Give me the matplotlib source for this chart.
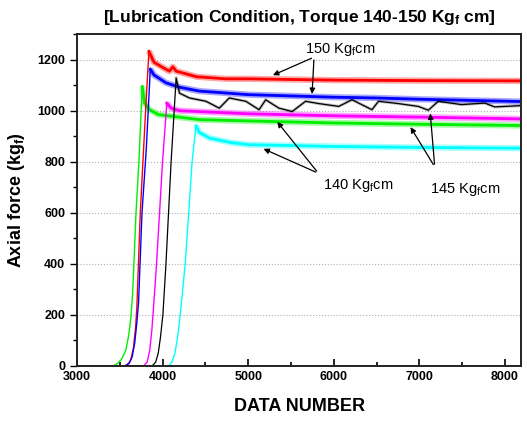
import numpy as np
import matplotlib.pyplot as plt
from matplotlib.ticker import MultipleLocator

plt.rcParams['font.family'] = ['Liberation Sans', 'DejaVu Sans']
plt.rcParams['mathtext.default'] = 'regular'

# curves: (data number, axial force kgf), pk index = start of noisy plateau
red_x = [3000, 3560, 3600, 3630, 3660, 3685, 3700, 3740, 3771, 3810, 3841, 3900, 4000, 4080, 4120, 4160, 4236, 4400, 4740, 5000, 6000, 7000, 8190]
red_y = [0, 0, 8, 25, 70, 150, 230, 600, 800, 1050, 1233, 1190, 1170, 1155, 1172, 1155, 1148, 1133, 1125, 1125, 1120, 1118, 1117]
red_pk = 10

blue_x = [3000, 3560, 3610, 3645, 3675, 3700, 3720, 3760, 3810, 3857, 3900, 4042, 4200, 4430, 5000, 6000, 6500, 7000, 8190]
blue_y = [0, 0, 10, 35, 90, 170, 250, 600, 850, 1163, 1140, 1109, 1092, 1077, 1063, 1053, 1050, 1045, 1036]
blue_pk = 9

green_x = [3000, 3420, 3470, 3520, 3570, 3605, 3630, 3650, 3668, 3690, 3724, 3763, 3790, 3849, 3950, 4430, 5000, 6000, 7000, 8190]
green_y = [0, 0, 8, 25, 60, 120, 190, 280, 420, 600, 800, 1095, 1030, 1004, 985, 965, 960, 952, 947, 942]
green_pk = 11

mag_x = [3000, 3780, 3820, 3850, 3875, 3895, 3930, 3965, 4000, 4050, 4100, 4200, 5000, 6000, 7000, 8190]
mag_y = [0, 0, 15, 60, 140, 230, 400, 600, 800, 1030, 1010, 1000, 988, 980, 975, 968]
mag_pk = 9

blk_x = [3000, 3880, 3920, 3950, 3975, 4004, 4040, 4070, 4100, 4159, 4198, 4314, 4508, 4663, 4779, 4973, 5128, 5205,
         5360, 5515, 5671, 5826, 6058, 6213, 6446, 6523, 6756, 6988, 7105, 7221, 7492, 7764, 7880, 8190]
blk_y = [0, 0, 15, 50, 110, 200, 400, 600, 800, 1128, 1069, 1050, 1037, 1010, 1050, 1037, 1004, 1043,
         1010, 997, 1037, 1028, 1017, 1043, 1004, 1037, 1028, 1017, 1002, 1037, 1024, 1030, 1015, 1020]
blk_pk = 9

cyan_x = [3000, 4070, 4110, 4145, 4175, 4200, 4230, 4265, 4306, 4345, 4391, 4430, 4547, 4800, 5000, 6000, 7000, 8190]
cyan_y = [0, 0, 15, 50, 110, 180, 280, 400, 600, 800, 941, 915, 893, 875, 867, 860, 856, 853]
cyan_pk = 10

series = [(green_x, green_y, green_pk, '#00ee00'),
          (cyan_x, cyan_y, cyan_pk, '#00ffff'),
          (mag_x, mag_y, mag_pk, '#ff00ff'),
          (red_x, red_y, red_pk, '#ff0000'),
          (blue_x, blue_y, blue_pk, '#0000ff')]

fig = plt.figure(figsize=(5.27, 4.22), dpi=100)
ax = fig.add_axes([0.146, 0.133, 0.843, 0.786])

for xs, ys, pk, col in series:
    ax.plot(xs, ys, color=col, lw=1.0)
    ax.plot(xs[pk:], ys[pk:], color=col, lw=4.5, alpha=0.35, solid_capstyle='butt')
    ax.plot(xs[pk:], ys[pk:], color=col, lw=2.0)
ax.plot(blk_x, blk_y, color='black', lw=0.9)
ax.plot(blk_x[blk_pk:], blk_y[blk_pk:], color='black', lw=2.2, alpha=0.25)

ax.set_xlim(3000, 8190)
ax.set_ylim(0, 1300)
ax.xaxis.set_major_locator(MultipleLocator(1000))
ax.xaxis.set_minor_locator(MultipleLocator(500))
ax.yaxis.set_major_locator(MultipleLocator(200))
ax.yaxis.set_minor_locator(MultipleLocator(100))
ax.tick_params(axis='x', which='both', direction='in', length=5, width=1.2)
ax.tick_params(axis='y', which='both', direction='out', length=5, width=1.0)
ax.tick_params(which='minor', length=3)
for lab in ax.get_xticklabels() + ax.get_yticklabels():
    lab.set_fontweight('bold')
    lab.set_fontsize(9)
ax.grid(axis='y', which='major', color='#b0b0b0', ls=':', lw=0.8)
for sp in ax.spines.values():
    sp.set_linewidth(1.4)
    sp.set_color('#222222')

ax.set_xlabel('DATA NUMBER', fontsize=13, fontweight='bold', labelpad=11)
ax.set_ylabel('Axial force (kg$_f$)', fontsize=13, fontweight='bold', labelpad=7)
ax.set_title('[Lubrication Condition, Torque 140-150 Kg$_f$ cm]', fontsize=12.5, fontweight='bold', pad=9)

arr = dict(arrowstyle='-|>', color='black', lw=0.9, mutation_scale=8)
ax.text(5660, 1240, '150 Kg$_f$cm', fontsize=10.5, va='center')
ax.annotate('', xy=(5260, 1135), xytext=(5770, 1210), arrowprops=arr)
ax.annotate('', xy=(5745, 1055), xytext=(5770, 1210), arrowprops=arr)

ax.text(5880, 705, '140 Kg$_f$cm', fontsize=10.5, va='center')
ax.annotate('', xy=(5320, 965), xytext=(5820, 755), arrowprops=arr)
ax.annotate('', xy=(5150, 855), xytext=(5820, 755), arrowprops=arr)

ax.text(7130, 690, '145 Kg$_f$cm', fontsize=10.5, va='center')
ax.annotate('', xy=(6880, 945), xytext=(7180, 780), arrowprops=arr)
ax.annotate('', xy=(7125, 1000), xytext=(7180, 780), arrowprops=arr)

plt.savefig('out.png', dpi=100)
